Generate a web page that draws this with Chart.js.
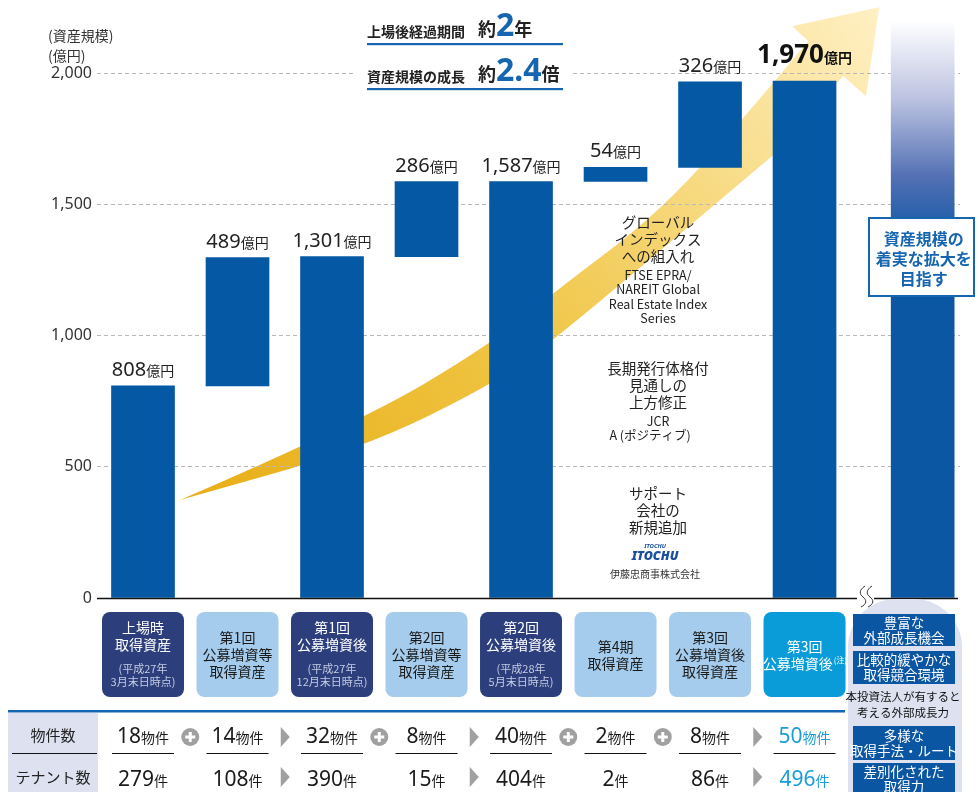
<!DOCTYPE html>
<html>
<head>
<meta charset="utf-8">
<script src="https://cdn.jsdelivr.net/npm/chart.js@4.4.0/dist/chart.umd.min.js"></script>
<style>
  html, body { margin: 0; padding: 0; background: #fff; }
  #wrap { width: 980px; height: 792px; }
</style>
</head>
<body>
<div id="wrap"><canvas id="c" width="980" height="792"></canvas></div>
<script>
// ---- データ ----
const categories = [
  ['上場時', '取得資産'],
  ['第1回', '公募増資等', '取得資産'],
  ['第1回', '公募増資後'],
  ['第2回', '公募増資等', '取得資産'],
  ['第2回', '公募増資後'],
  ['第4期', '取得資産'],
  ['第3回', '公募増資後', '取得資産'],
  ['第3回', '公募増資後(注)']
];
const categoryNotes = [
  ['(平成27年', '3月末日時点)'], null,
  ['(平成27年', '12月末日時点)'], null,
  ['(平成28年', '5月末日時点)'], null, null, null
];
const assetValues = [808, 489, 1301, 286, 1587, 54, 326, 1970];   // 億円
const assetKinds = ['total', 'add', 'total', 'add', 'total', 'add', 'add', 'total'];
const targetValue = 2200;   // 目指す（グラデーションの柱）
const yTicks = [0, 500, 1000, 1500, 2000];

const propertyCounts = [18, 14, 32, 8, 40, 2, 8, 50];
const tenantCounts = [279, 108, 390, 15, 404, 2, 86, 496];
const propertyOps = ['plus', 'arrow', 'plus', 'arrow', 'plus', 'plus', 'arrow'];
const tenantOps = [null, 'arrow', null, 'arrow', null, null, 'arrow'];

const summaryRows = [
  ['上場後経過期間', '約', '2', '年'],
  ['資産規模の成長', '約', '2.4', '倍']
];
const growthNotes = [
  { title: ['グローバル', 'インデックス', 'への組入れ'], detail: ['FTSE EPRA/', 'NAREIT Global', 'Real Estate Index', 'Series'] },
  { title: ['長期発行体格付', '見通しの', '上方修正'], detail: ['JCR', 'A (ポジティブ)'] },
  { title: ['サポート', '会社の', '新規追加'], detail: [] }
];
const targetText = ['資産規模の', '着実な拡大を', '目指す'];
const strengths = [
  ['豊富な', '外部成長機会'],
  ['比較的緩やかな', '取得競合環境'],
  ['本投資法人が有すると', '考える外部成長力'],
  ['多様な', '取得手法・ルート'],
  ['差別化された', '取得力']
];

// ---- スタイル ----
const JP = '"Noto Sans CJK JP", "Noto Sans", sans-serif';
const NUM = '"Noto Sans", "Noto Sans CJK JP", sans-serif';
const BAR = '#0558a3';
const NAVY = '#2c3f7c';
const LIGHT = '#a5ccec';
const CYAN = '#0a9cd8';
const BLUE = '#1565b0';
const LAV = '#dde1f0';
const boxKinds = ['dark', 'light', 'dark', 'light', 'dark', 'light', 'light', 'accent'];

// 矢印（データ座標：x=列, y=億円）
const arrowUpper = [[0.39, 373], [2.30, 670], [3.68, 968], [4.34, 1162], [5.50, 1478], [6.49, 1886], [7.04, 2122]];
const arrowHead = [[6.87, 2179], [7.79, 2251], [7.65, 1912], [7.41, 1989]];
const arrowLower = [[6.67, 1688], [5.98, 1478], [4.34, 979], [3.67, 808], [2.30, 568], [0.39, 373]];

// 積み上げ（ウォーターフォール）のバーを作る
let running = 0;
const bars = assetValues.map((v, i) => {
  let s, e;
  if (assetKinds[i] === 'total') { s = 0; e = v; }
  else { s = running; e = running + v; }
  running = e;
  return { x: i, y: [s, e] };
});
const targetX = assetValues.length + 0.25;
bars.push({ x: targetX, y: [0, targetValue] });

function mixed(ctx, parts, cx, baseY, align) {
  let w = 0;
  parts.forEach(p => { ctx.font = p[1]; w += ctx.measureText(p[0]).width; });
  let x = align === 'left' ? cx : cx - w / 2;
  ctx.textAlign = 'left';
  ctx.textBaseline = 'alphabetic';
  parts.forEach(p => {
    ctx.font = p[1]; ctx.fillStyle = p[2];
    ctx.fillText(p[0], x, baseY);
    x += ctx.measureText(p[0]).width;
  });
}
function txt(ctx, s, x, y, font, color) {
  ctx.font = font; ctx.fillStyle = color;
  ctx.textAlign = 'center'; ctx.textBaseline = 'middle';
  ctx.fillText(s, x, y);
}
function smoothPath(ctx, pts, start) {
  if (start) ctx.moveTo(pts[0][0], pts[0][1]); else ctx.lineTo(pts[0][0], pts[0][1]);
  for (let i = 1; i < pts.length - 1; i++) {
    const mx = (pts[i][0] + pts[i + 1][0]) / 2, my = (pts[i][1] + pts[i + 1][1]) / 2;
    ctx.quadraticCurveTo(pts[i][0], pts[i][1], mx, my);
  }
  const l = pts[pts.length - 1];
  ctx.lineTo(l[0], l[1]);
}

const arrowPlugin = {
  id: 'arrow',
  beforeDraw(chart) {
    const { ctx, scales: { x, y } } = chart;
    const px = p => [x.getPixelForValue(p[0]), y.getPixelForValue(p[1])];
    const up = arrowUpper.map(px), head = arrowHead.map(px), low = arrowLower.map(px);
    ctx.save();
    const g = ctx.createLinearGradient(up[0][0], up[0][1], head[1][0], head[1][1]);
    g.addColorStop(0, '#e8ad15');
    g.addColorStop(0.45, '#f0c646');
    g.addColorStop(1, '#fff0c4');
    ctx.fillStyle = g;
    ctx.beginPath();
    smoothPath(ctx, up, true);
    head.forEach(p => ctx.lineTo(p[0], p[1]));
    smoothPath(ctx, low, false);
    ctx.closePath();
    ctx.fill();
    ctx.restore();
  }
};

const decoPlugin = {
  id: 'deco',
  afterDraw(chart) {
    const { ctx, scales: { x, y } } = chart;
    const y0 = y.getPixelForValue(0);
    ctx.save();

    // 基線と省略記号
    ctx.strokeStyle = '#111'; ctx.lineWidth = 1.5;
    ctx.beginPath();
    ctx.moveTo(chart.chartArea.left, y0 + 0.5); ctx.lineTo(857, y0 + 0.5);
    ctx.moveTo(874, y0 + 0.5); ctx.lineTo(958, y0 + 0.5);
    ctx.stroke();
    ctx.lineWidth = 1; ctx.strokeStyle = '#333';
    [861, 868].forEach(wx => {
      ctx.beginPath();
      ctx.moveTo(wx + 4, y0 - 12);
      ctx.bezierCurveTo(wx - 2, y0 - 8, wx - 2, y0 - 4, wx + 2, y0 - 1);
      ctx.bezierCurveTo(wx + 6, y0 + 2, wx + 6, y0 + 6, wx, y0 + 9);
      ctx.stroke();
    });

    // 値ラベル
    const meta = chart.getDatasetMeta(0);
    assetValues.forEach((v, i) => {
      const el = meta.data[i];
      const top = y.getPixelForValue(bars[i].y[1]);
      const last = i === assetValues.length - 1;
      const s = v.toLocaleString('en-US');
      if (last) mixed(ctx, [[s, 'bold 26px ' + NUM, '#111'], ['億円', 'bold 14px ' + JP, '#111']], el.x, top - 18);
      else mixed(ctx, [[s, '20px ' + NUM, '#222'], ['億円', '14px ' + JP, '#222']], el.x, top - 10);
    });

    // 縦軸タイトル
    ctx.textAlign = 'left'; ctx.textBaseline = 'alphabetic';
    ctx.font = '14px ' + JP; ctx.fillStyle = '#333';
    ctx.fillText('(資産規模)', 48, 41);
    ctx.fillText('(億円)', 48, 61);

    // 上部サマリー
    ctx.fillStyle = '#fff';
    ctx.fillRect(355, 60, 216, 30);
    summaryRows.forEach((r, k) => {
      const base = 37 + k * 45;
      mixed(ctx, [[r[0], 'bold 14px ' + JP, '#222']], 367, base, 'left');
      mixed(ctx, [[r[1], 'bold 18px ' + JP, '#222'], [r[2], 'bold 32px ' + NUM, BLUE], [r[3], 'bold 18px ' + JP, '#222']], 478, base - 1, 'left');
      ctx.fillStyle = BLUE;
      ctx.fillRect(367, base + 6, 196, 2.2);
    });

    // 中央の注記
    const nx = x.getPixelForValue(5.45);
    const starts = [222, 368, 493];
    growthNotes.forEach((n, k) => {
      let yy = starts[k];
      n.title.forEach(t => { txt(ctx, t, nx, yy, '14.5px ' + JP, '#222'); yy += 17; });
      yy += 2;
      n.detail.forEach(t => { txt(ctx, t, nx - (t.startsWith('A') ? 8 : 0), yy, '12.5px ' + JP, '#222'); yy += 14.5; });
    });
    // 伊藤忠ロゴ
    txt(ctx, 'ITOCHU', nx - 3, 546, 'italic bold 6px ' + NUM, '#1a4fa0');
    txt(ctx, 'ITOCHU', nx - 3, 556, 'italic 900 12.5px ' + NUM, '#1a4fa0');
    txt(ctx, '伊藤忠商事株式会社', nx - 3, 574, '10px ' + JP, '#333');

    // 右側の目標ボックス
    const tx = x.getPixelForValue(targetX);
    ctx.fillStyle = '#fff';
    ctx.fillRect(868, 217, 107, 80);
    ctx.strokeStyle = BLUE; ctx.lineWidth = 2;
    ctx.strokeRect(869, 218, 105, 78);
    targetText.forEach((t, k) => txt(ctx, t, tx + 1, 239 + k * 20, 'bold 16px ' + JP, BLUE));

    // 下部の区分ボックス
    categories.forEach((lines, i) => {
      const cx = x.getPixelForValue(i);
      const kind = boxKinds[i];
      ctx.fillStyle = kind === 'dark' ? NAVY : kind === 'light' ? LIGHT : CYAN;
      ctx.beginPath(); ctx.roundRect(cx - 41, 612, 82, 85, 8); ctx.fill();
      const col = kind === 'light' ? '#1a1a1a' : '#fff';
      const notes = categoryNotes[i];
      let yy = notes ? 628 : 655 - (lines.length - 1) * 8.5;
      lines.forEach(t => {
        if (t.endsWith('(注)')) {
          const main = t.replace('(注)', '');
          ctx.font = '14px ' + JP;
          const w = ctx.measureText(main).width;
          ctx.font = '8px ' + JP;
          const w2 = ctx.measureText('(注)').width;
          txt(ctx, main, cx - w2 / 2, yy, '14px ' + JP, col);
          txt(ctx, '(注)', cx + w / 2 + 1, yy - 4, '8px ' + JP, col);
        } else txt(ctx, t, cx, yy, '14px ' + JP, col);
        yy += 17;
      });
      if (notes) notes.forEach((t, k) => txt(ctx, t, cx, 669 + k * 13, '11px ' + JP, '#c5cce3'));
    });

    // 右下：外部成長力
    ctx.fillStyle = LAV;
    ctx.beginPath(); ctx.roundRect(848, 599, 114, 193, [48, 48, 0, 0]); ctx.fill();
    const sBoxes = [[614, 646], [651, 684], null, [726, 760], [763, 795]];
    strengths.forEach((s, k) => {
      const b = sBoxes[k];
      if (b) {
        ctx.fillStyle = '#0b56a3';
        ctx.fillRect(853, b[0], 102, b[1] - b[0]);
        const mid = (b[0] + b[1]) / 2;
        txt(ctx, s[0], 904, mid - 7.5, '13.5px ' + JP, '#fff');
        txt(ctx, s[1], 904, mid + 7.5, '13.5px ' + JP, '#fff');
      } else {
        txt(ctx, s[0], 903, 697, '11.5px ' + JP, '#111');
        txt(ctx, s[1], 903, 713, '11.5px ' + JP, '#111');
      }
    });

    // 表
    ctx.fillStyle = LAV;
    ctx.fillRect(8, 713, 90, 79);
    ctx.fillStyle = BLUE;
    ctx.fillRect(8, 710, 837, 2.5);
    txt(ctx, '物件数', 53, 735, '15px ' + JP, '#222');
    txt(ctx, 'テナント数', 53, 777, '15px ' + JP, '#222');
    ctx.fillStyle = '#111';
    ctx.fillRect(12, 753, 85, 1);
    propertyCounts.forEach((v, i) => {
      const cx = x.getPixelForValue(i);
      const c = i === propertyCounts.length - 1 ? '#1a9ed9' : '#1a1a1a';
      mixed(ctx, [[String(v), '21px ' + NUM, c], ['物件', '14px ' + JP, c]], cx, 743);
      mixed(ctx, [[String(tenantCounts[i]), '21px ' + NUM, c], ['件', '14px ' + JP, c]], cx, 786);
      ctx.fillStyle = '#111';
      ctx.fillRect(cx - 31, 753, 62, 1);
    });
    const drawOp = (op, mx, cy) => {
      ctx.fillStyle = '#a0a0a0';
      if (op === 'plus') {
        ctx.beginPath(); ctx.arc(mx, cy, 9, 0, Math.PI * 2); ctx.fill();
        ctx.fillStyle = '#fff';
        ctx.fillRect(mx - 5, cy - 1.5, 10, 3);
        ctx.fillRect(mx - 1.5, cy - 5, 3, 10);
      } else if (op === 'arrow') {
        ctx.beginPath();
        ctx.moveTo(mx - 4, cy - 10); ctx.lineTo(mx + 5, cy); ctx.lineTo(mx - 4, cy + 10);
        ctx.closePath(); ctx.fill();
      }
    };
    propertyOps.forEach((op, i) => {
      const mx = (x.getPixelForValue(i) + x.getPixelForValue(i + 1)) / 2;
      drawOp(op, mx, 737);
      drawOp(tenantOps[i], mx, 777);
    });

    ctx.restore();
  }
};

new Chart(document.getElementById('c'), {
  type: 'bar',
  data: {
    datasets: [{
      data: bars,
      barThickness: 63,
      borderSkipped: false,
      backgroundColor: (c) => {
        if (c.dataIndex !== bars.length - 1) return BAR;
        const ch = c.chart;
        if (!ch.chartArea) return BAR;
        const ys = ch.scales.y;
        const g = ch.ctx.createLinearGradient(0, ys.getPixelForValue(targetValue), 0, ys.getPixelForValue(1350));
        g.addColorStop(0, '#ffffff');
        g.addColorStop(0.35, '#bcc3e1');
        g.addColorStop(0.7, '#5370b4');
        g.addColorStop(1, '#0b57a3');
        return g;
      }
    }]
  },
  options: {
    responsive: false,
    devicePixelRatio: 1,
    animation: false,
    layout: { padding: { top: 4, right: 20, bottom: 194, left: 0 } },
    plugins: { legend: { display: false }, tooltip: { enabled: false }, title: { display: false } },
    scales: {
      x: { type: 'linear', offset: false, min: -0.4868, max: 8.645, display: false },
      y: {
        min: 0, max: 2223,
        afterBuildTicks: (s) => { s.ticks = yTicks.map(v => ({ value: v })); },
        afterFit: (s) => { s.width = 97; },
        grid: { color: (c) => c.tick && c.tick.value === 0 ? 'rgba(0,0,0,0)' : '#b8b8b8', drawTicks: false, lineWidth: 1 },
        border: { display: false, dash: [4, 3] },
        ticks: {
          padding: 5,
          color: '#333',
          font: { family: NUM, size: 16 },
          callback: (v) => v.toLocaleString('en-US')
        }
      }
    }
  },
  plugins: [arrowPlugin, decoPlugin]
});
</script>
</body>
</html>
